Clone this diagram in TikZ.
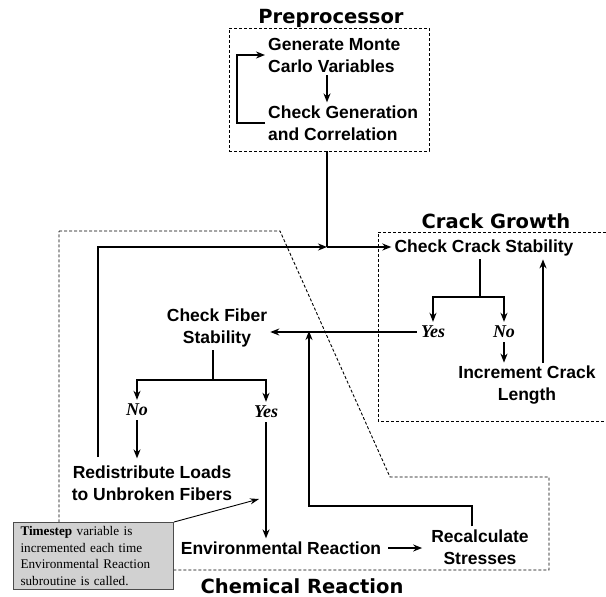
\documentclass[tikz,border=0pt]{standalone}
\usepackage{fontspec}
\setmainfont{Liberation Serif}
\setsansfont{Liberation Sans}
\newfontfamily\titlefont{DejaVu Sans}
\usetikzlibrary{arrows.meta,positioning,calc}

\begin{document}
\begin{tikzpicture}[x=1pt,y=-1pt, >={Stealth[length=9pt,width=7pt]},
   box/.style={font=\sffamily\bfseries\fontsize{17.5}{22}\selectfont, align=center, inner sep=3pt},
   ans/.style={font=\rmfamily\bfseries\itshape\fontsize{18}{20}\selectfont, inner sep=4pt},
   head/.style={font=\titlefont\bfseries\fontsize{19.5}{22}\selectfont, inner sep=0pt},
   group/.style={draw, dash pattern=on 3pt off 2pt, line width=0.9pt},
   flow/.style={line width=1.6pt},
   note/.style={draw=black!70, fill=black!18, line width=1pt, align=left, text width=146pt,
                inner xsep=7pt, inner ysep=4pt, font=\rmfamily\fontsize{13.2}{16.5}\selectfont}]
   \useasboundingbox (0,0) rectangle (606,597);
   % dashed groups
   \draw[group] (59,231) -- (280,231) -- (390,477) -- (549,477) -- (549,570) -- (59,570) -- cycle;
   \draw[group] (606,232) -- (378,232) -- (378,421) -- (606,421);
   \node[group, minimum width=200pt, minimum height=123pt] (pre) at (329,89.5) {};
   \node[head] (t_pre)   at (331,18)  {Preprocessor};
   \node[head] (t_crack) at (496,221) {Crack Growth};
   \node[head] (t_chem)  at (302,586) {Chemical Reaction};
   % steps
   \node[box, align=left, anchor=west] (gen) at (265,55)  {Generate Monte\\Carlo Variables};
   \node[box, align=left, anchor=west] (chk) at (265,123) {Check Generation\\and Correlation};
   \node[box] (ccs) at (484,248) {Check Crack Stability};
   \node[ans] (yes1) at (433,332) {Yes};
   \node[ans] (no1)  at (504,332) {No};
   \node[box] (icl) at (527,385) {Increment Crack\\Length};
   \node[box] (cfs) at (217,328) {Check Fiber\\Stability};
   \node[ans] (no2)  at (137,410) {No};
   \node[ans] (yes2) at (266,412) {Yes};
   \node[box] (rdl) at (152,483) {Redistribute Loads\\to Unbroken Fibers};
   \node[box] (env) at (281,548) {Environmental Reaction};
   \node[box] (rcs) at (480,547) {Recalculate\\Stresses};
   \coordinate (join)    at (327,247);
   \coordinate (c_split) at (480,297);
   \coordinate (f_split) at (213,380);
   \coordinate (back)    at (98,457);
   \coordinate (turn)    at (309,506);
   \coordinate (merge)   at (309,331);
   % preprocessor
   \draw[flow,->] (gen.south -| join) -- (chk.north -| join);
   \draw[flow,->] (chk.west) -- ++(-28,0) |- (gen.west);
   \draw[flow] (pre.south -| join) -- (join);
   \draw[flow,->] (back) |- (join);
   \draw[flow,->] (join) -- (join -| ccs.west);
   % crack growth
   \draw[flow] (ccs.south -| c_split) -- (c_split);
   \draw[flow,->] (c_split) -| (yes1.north);
   \draw[flow,->] (c_split) -| (no1.north);
   \draw[flow,->] (no1.south) -- (icl.north -| no1.south);
   \draw[flow,->] ([xshift=16pt]icl.north) -- ([xshift=16pt]icl.north |- ccs.south);
   \draw[flow,->] (yes1.west) -- (yes1.west -| cfs.east);
   % chemical reaction
   \draw[flow] (cfs.south -| f_split) -- (f_split);
   \draw[flow,->] (f_split) -| (no2.north);
   \draw[flow,->] (f_split) -| (yes2.north);
   \draw[flow,->, shorten >=4pt] (no2.south) -- (rdl.north -| no2.south);
   \draw[flow,->] (yes2.south) -- (env.north -| yes2.south);
   \draw[flow,->, shorten >=6pt, shorten <=4pt] (env.east) -- (env.east -| rcs.west);
   \draw[flow,->] ([xshift=-8pt]rcs.north) |- (turn) -- (merge);
   % note
   \node[note, anchor=north west] (tnote) at (13,522)
      {\textbf{Timestep} variable is\\incremented each time\\Environmental Reaction\\subroutine is called.};
   \coordinate (n_tip) at (259,499);
   \draw[line width=0.9pt, -{Stealth[length=9pt,width=6pt]}] (tnote.north east) -- (n_tip);
\end{tikzpicture}
\end{document}
